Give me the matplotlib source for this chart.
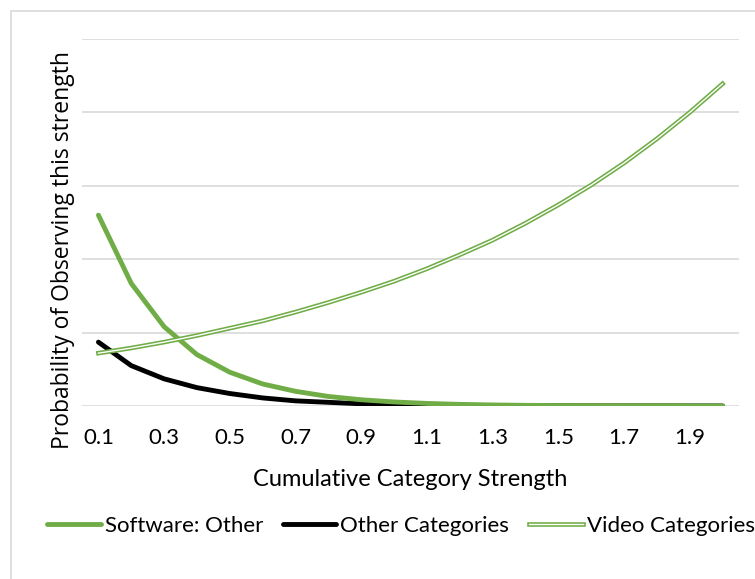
import numpy as np
import matplotlib.pyplot as plt
import matplotlib.patheffects as pe
from matplotlib.patches import Rectangle

strength = ["0.1", "0.2", "0.3", "0.4", "0.5", "0.6", "0.7", "0.8", "0.9", "1.0",
            "1.1", "1.2", "1.3", "1.4", "1.5", "1.6", "1.7", "1.8", "1.9", "2.0"]

software_other = [2.60, 1.67, 1.08, 0.70, 0.46, 0.30, 0.20, 0.13, 0.085, 0.055,
                  0.035, 0.022, 0.014, 0.009, 0.006, 0.004, 0.0025, 0.0016, 0.001, 0.0007]
other_categories = [0.87, 0.55, 0.37, 0.25, 0.17, 0.11, 0.07, 0.05, 0.03, 0.02,
                    0.014, 0.009, 0.006, 0.004, 0.003, 0.002, 0.0015, 0.001, 0.0007, 0.0005]
video_categories = [0.72, 0.79, 0.87, 0.96, 1.06, 1.16, 1.28, 1.41, 1.55, 1.70,
                    1.87, 2.06, 2.26, 2.49, 2.74, 3.01, 3.31, 3.64, 4.00, 4.39]

green = "#70AD47"
label_font = "Lato"

fig = plt.figure(figsize=(7.55, 5.79), dpi=100)
# chart border like excel
fig.patches.append(Rectangle((11/755, -0.1), 1.2, 1 - 11/579 + 0.1, transform=fig.transFigure,
                             fill=False, edgecolor="#D9D9D9", linewidth=1.2))

ax = fig.add_axes([82/755, 1 - 406/579, (739 - 82)/755, (406 - 39)/579])
x = np.arange(len(strength))

for y in range(0, 6):
    ax.axhline(y, color="#D9D9D9", linewidth=1.2, zorder=0)

ax.plot(x, software_other, color=green, linewidth=3.5, solid_capstyle="round",
        label="Software: Other", zorder=3)
ax.plot(x, other_categories, color="black", linewidth=3.5, solid_capstyle="round",
        label="Other Categories", zorder=2)
ax.plot(x, video_categories, color="white", linewidth=1.0, label="Video Categories", zorder=4,
        path_effects=[pe.Stroke(linewidth=3.3, foreground=green), pe.Normal()])

ax.set_xlim(-0.5, len(strength) - 0.5)
ax.set_ylim(0, 5)
ax.set_xticks(x[::2])
ax.set_xticklabels(strength[::2], fontsize=16, family=label_font)
ax.tick_params(axis="x", length=0, pad=16)
ax.set_yticks([])
for s in ax.spines.values():
    s.set_visible(False)

ax.set_xlabel("Cumulative Category Strength", fontsize=17, family=label_font, labelpad=15)
fig.text(63/755, 1 - 250/579, "Probability of Observing this strength", rotation=90,
         ha="center", va="center", fontsize=16.5, family="Open Sans")

fig.legend(loc="center", bbox_to_anchor=(401/755, 1 - 526/579), ncol=3, frameon=False,
           prop={"family": label_font, "size": 16}, handlelength=2.4, handletextpad=0.18,
           columnspacing=0.9)

fig.savefig("out.png", dpi=100)
